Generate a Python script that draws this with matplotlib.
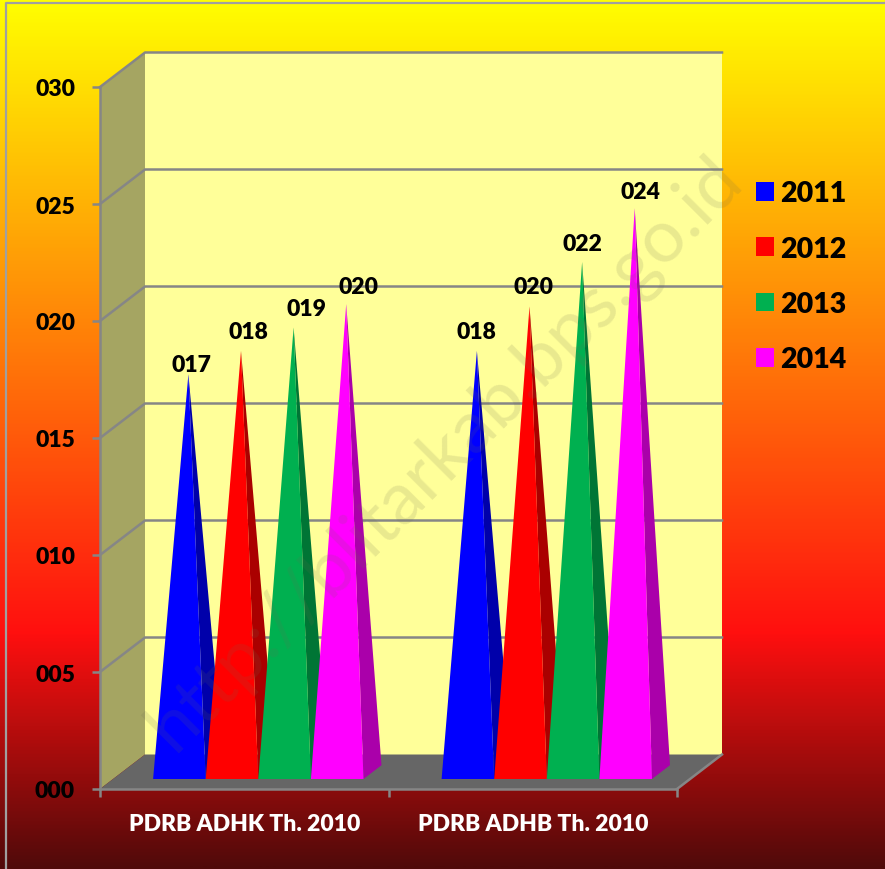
import numpy as np
import matplotlib.pyplot as plt
from matplotlib.colors import LinearSegmentedColormap
from matplotlib.patches import Polygon, Patch

plt.rcParams['font.family'] = ['Lato', 'DejaVu Sans']
plt.rcParams['font.weight'] = 'heavy'

categories = ["PDRB ADHK Th. 2010", "PDRB ADHB Th. 2010"]
years = ["2011", "2012", "2013", "2014"]
values_2011 = [17.0, 18.0]
values_2012 = [18.0, 19.9]
values_2013 = [19.0, 21.8]
values_2014 = [20.0, 24.1]
bar_labels = [["017", "018"], ["018", "020"], ["019", "022"], ["020", "024"]]
y_ticks = [0, 5, 10, 15, 20, 25, 30]

colors = ["#0000FF", "#FF0000", "#00B050", "#FF00FF"]
side_colors = ["#0000AA", "#AA0000", "#007535", "#AA00AA"]
grid_color = "#868686"

W, H = 885, 870
fig = plt.figure(figsize=(W / 100, H / 100), dpi=100)

# background gradient, whole figure
bg = fig.add_axes([0, 0, 1, 1])
bg_cmap = LinearSegmentedColormap.from_list("bg", [(0, "#FFFF00"), (0.73, "#FF0F0F"), (1, "#500A0A")])
bg.imshow(np.linspace(0, 1, 512).reshape(-1, 1), aspect="auto", cmap=bg_cmap, extent=(0, W, H, 0))
bg.set_xlim(0, W)
bg.set_ylim(H, 0)
bg.axis("off")
bg.plot([6, 6, W + 5, W + 5], [H + 5, 4, 4, H + 5], color="#A0A0A0", lw=1.6, clip_on=False)

# main axes sits on the front plane of the 3d box
ax = fig.add_axes([100 / W, 1 - 790 / H, 577 / W, 702 / H])
ax.set_facecolor("none")
ax.set_xlim(0, 2)
ax.set_ylim(0, 30)

# box depth in data units
dx = 45 / 288.5
dy = 34.5 / 23.4

ax.add_patch(Polygon([(0, 0), (dx, dy), (dx, 30 + dy), (0, 30)], fc="#A5A562", ec="none", clip_on=False, zorder=1))
ax.add_patch(Polygon([(dx, dy), (2 + dx, dy), (2 + dx, 30 + dy), (dx, 30 + dy)], fc="#FFFF99", ec="none", clip_on=False, zorder=1))
ax.add_patch(Polygon([(0, 0), (2, 0), (2 + dx, dy), (dx, dy)], fc="#666666", ec="none", clip_on=False, zorder=1))

for t in y_ticks:
    if t > 0:
        ax.plot([0, dx, 2 + dx], [t, t + dy, t + dy], color=grid_color, lw=1.8, clip_on=False, zorder=2)
ax.plot([2, 2 + dx], [0, dy], color=grid_color, lw=1.8, clip_on=False, zorder=2)

# pyramids
bar_w = 52.6 / 288.5
series = [values_2011, values_2012, values_2013, values_2014]
start = 0.29
depth = 0.40
nudge = 1 / 288.5
# hand placed label offsets in points (series, category)
label_offsets = [[(2, 7), (0, 14)], [(5, 14), (3, 14)], [(9, 14), (0, 13)], [(9, 13), (4, 12)]]

for c in range(len(categories)):
    for s, vals in enumerate(series):
        x0 = c + 0.5 + (s - 2) * bar_w + start * dx + nudge
        x1 = x0 + bar_w
        y0 = start * dy
        apex = (x0 + bar_w / 2 + depth * dx / 2, y0 + depth * dy / 2 + vals[c])
        ax.add_patch(Polygon([(x1, y0), (x1 + depth * dx, y0 + depth * dy), apex], fc=side_colors[s], ec="none", clip_on=False, zorder=3))
        ax.add_patch(Polygon([(x0, y0), (x1, y0), apex], fc=colors[s], ec="none", clip_on=False, zorder=3))
        ax.annotate(bar_labels[s][c], apex, xytext=label_offsets[s][c], textcoords="offset points",
                    ha="center", va="center", fontsize=16.5, color="black", zorder=6, annotation_clip=False)

# axes, ticks
for side in ["top", "right"]:
    ax.spines[side].set_visible(False)
for side in ["left", "bottom"]:
    ax.spines[side].set_color(grid_color)
    ax.spines[side].set_linewidth(1.8)
    ax.spines[side].set_zorder(5)
ax.set_yticks(y_ticks)
ax.set_yticklabels([f"{t:03d}" for t in y_ticks], fontsize=16.5, color="black")
ax.set_xticks([0, 1, 2])
ax.set_xticklabels([])
ax.set_xticks([0.5, 1.5], minor=True)
ax.set_xticklabels(categories, minor=True, fontsize=16.5, color="white")
ax.tick_params(axis="both", which="major", color=grid_color, width=1.8, length=6)
ax.tick_params(axis="y", pad=12)
ax.tick_params(axis="x", which="minor", length=0, pad=17)

handles = [Patch(fc=colors[i], ec="none", label=years[i]) for i in range(4)]
leg = ax.legend(handles=handles, loc="upper left", bbox_to_anchor=(756 / W, 1 - 181.5 / H), bbox_transform=fig.transFigure,
                frameon=False, fontsize=20.5, handlelength=0.63, handleheight=0.63, handletextpad=0.22,
                labelspacing=1.03, borderpad=0, borderaxespad=0)
leg.set_zorder(7)

# watermark
fig.text(460 / W, 1 - 468 / H, "http://blitarkab.bps.go.id", rotation=45, rotation_mode="anchor",
         ha="center", va="baseline", fontsize=53, fontweight="normal", family="Lato",
         color="#6B6B50", alpha=0.15, zorder=10)

fig.savefig("out.png", dpi=100)
